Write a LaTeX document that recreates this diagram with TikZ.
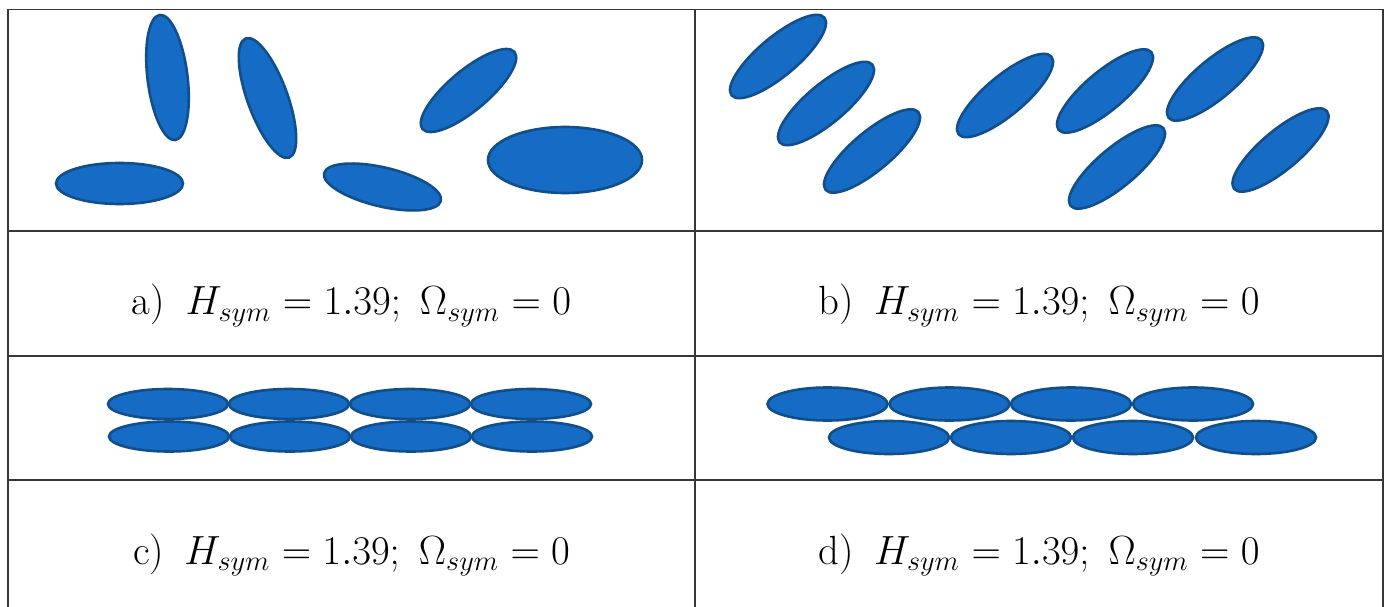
\documentclass[tikz,border=0pt]{standalone}
\definecolor{blobfill}{RGB}{22,108,196}
\definecolor{blobline}{RGB}{16,78,140}
\definecolor{gridline}{RGB}{55,55,55}
\newcommand{\blob}[5]{\draw[blob] (#1,#2) ellipse [x radius=#3pt, y radius=#4pt, rotate=#5];}
\newcommand{\lbltext}[1]{#1)\hspace{0.5em}$H_{sym} = 1.39;\hspace{0.3em}\Omega_{sym} = 0$}
\tikzset{
  blob/.style={fill=blobfill, draw=blobline, line width=2.6pt},
  gridrule/.style={draw=gridline, line width=1.8pt},
  lbl/.style={anchor=base, inner sep=0pt, font=\LARGE, scale=2.36, transform shape}
}
\begin{document}
\begin{tikzpicture}[x=1pt,y=1pt]
\useasboundingbox (0,0) rectangle (1389,606);
\fill[white] (0,0) rectangle (1389,606);
% table rules
\draw[gridrule] (8,596.5) -- (1383,596.5);
\draw[gridrule] (8,375) -- (1383,375);
\draw[gridrule] (8,250) -- (1383,250);
\draw[gridrule] (8,126) -- (1383,126);
\draw[gridrule] (8,-2) -- (8,596.5);
\draw[gridrule] (695,-2) -- (695,596.5);
\draw[gridrule] (1383,-2) -- (1383,596.5);
% cell a
\blob{119.5}{422.5}{63.5}{20.5}{0}
\blob{167.5}{528.5}{63}{20}{97}
\blob{267.5}{508}{63.4}{20}{110}
\blob{382.5}{419}{60}{19.5}{-13.3}
\blob{468.5}{515.5}{60}{20}{40}
\blob{565}{446}{77}{33}{0}
% cell b
\foreach \cx/\cy in {778/549.5, 826/502.5, 872/455, 1005/510.5, 1105/515, 1215/527, 1117/439, 1280.5/456}
  {\blob{\cx}{\cy}{60.5}{19.5}{40}}
% cell c
\foreach \cx in {168,289,410,531}{\blob{\cx}{202}{60}{15}{0}}
\foreach \cx in {169,290,411,532}{\blob{\cx}{169.5}{60}{15}{0}}
% cell d
\foreach \cx in {827.5,949.5,1071,1193}{\blob{\cx}{202}{60}{16.5}{0}}
\foreach \cx in {889,1011,1133,1256}{\blob{\cx}{168.5}{60}{16.5}{0}}
% labels
\node[lbl] (la) at (351.5,291) {\lbltext{a}};
\node[lbl] (lb) at (1039,291) {\lbltext{b}};
\node[lbl] (lc) at (351.5,42) {\lbltext{c}};
\node[lbl] (ld) at (1039,42) {\lbltext{d}};
\end{tikzpicture}
\end{document}
